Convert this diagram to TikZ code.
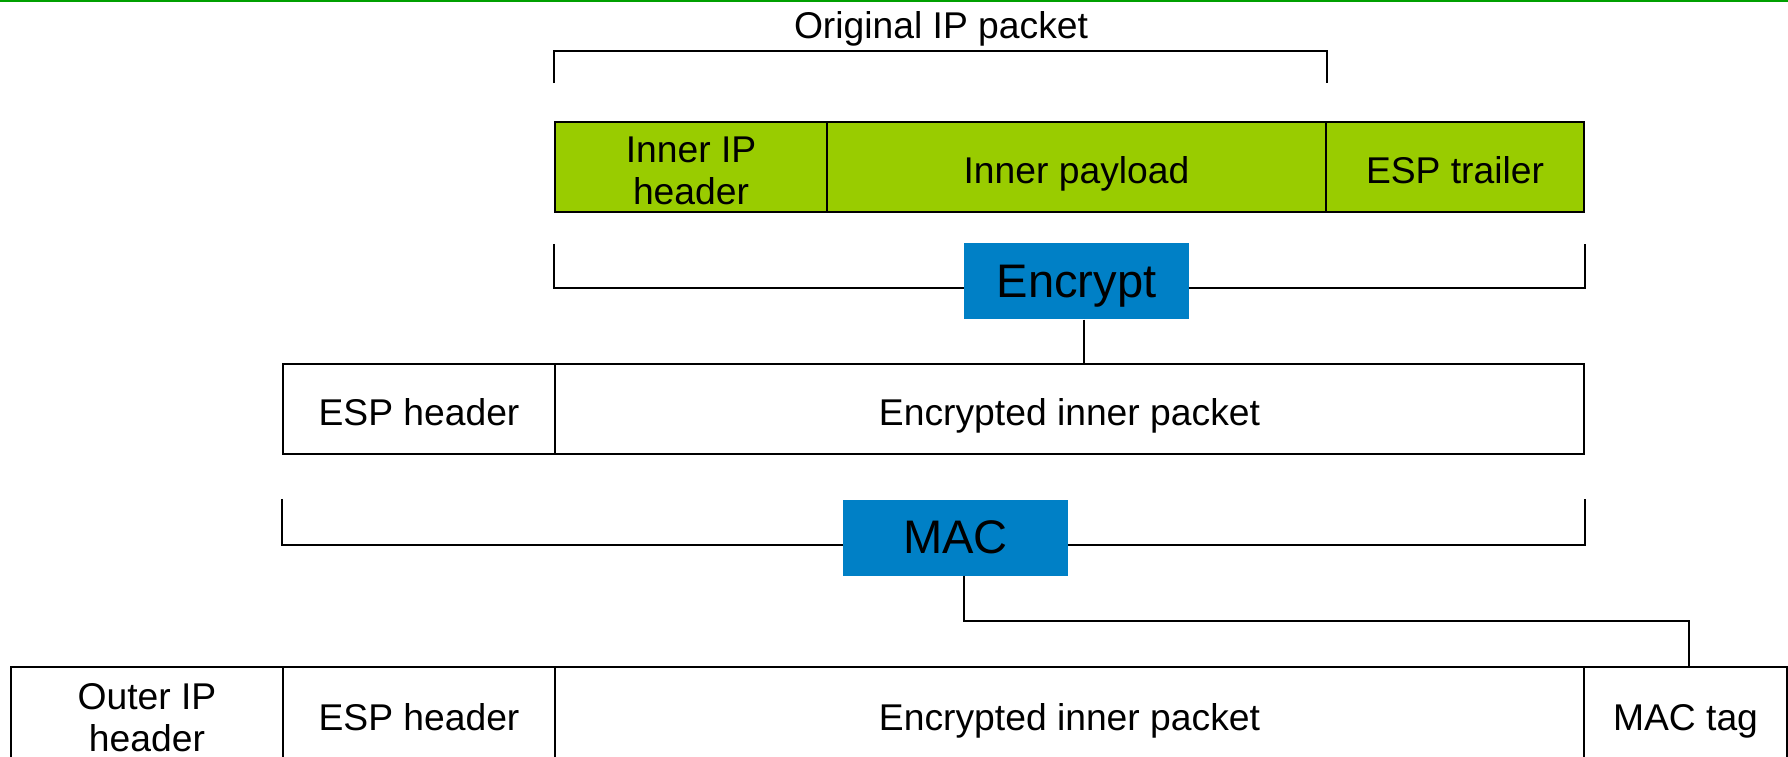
\documentclass[tikz,border=0pt]{standalone}
\usepackage{fontspec}
\setmainfont{Liberation Sans}
\definecolor{leafgreen}{RGB}{153,204,0}
\definecolor{stepblue}{RGB}{0,128,198}
\definecolor{rulegreen}{RGB}{0,160,0}

\tikzset{
  cell/.style={draw, line width=0.5pt, minimum height=0.9cm, inner sep=0pt,
    align=center, text height=0.36cm, text depth=0.036cm,
    font=\fontsize{10.6}{12}\selectfont},
  twoline/.style={text height=0.8cm, text depth=0.053cm},
  greencell/.style={cell, fill=leafgreen},
  opbox/.style={fill=stepblue, minimum width=2.25cm, minimum height=0.76cm,
    inner sep=0pt, text depth=0pt, font=\fontsize{13.4}{15}\selectfont},
  link/.style={line width=0.5pt},
}

\begin{document}
\begin{tikzpicture}
    \useasboundingbox (0,0) rectangle (17.88,7.56);
    \draw[rulegreen, line width=0.6pt] (0,7.55) -- (17.88,7.55);

    % Original packet with ESP trailer appended
    \node[greencell, twoline, minimum width=2.72cm] (inhdr) at (6.91,5.89) {Inner IP\\header};
    \node[greencell, minimum width=4.99cm] (payload) at (10.765,5.89) {Inner payload};
    \node[greencell, minimum width=2.58cm] (trailer) at (14.55,5.89) {ESP trailer};
    \node (origlabel) at (9.41,7.275) {\fontsize{10.6}{12}\selectfont Original IP packet};
    \draw[link] ([yshift=0.38cm]inhdr.north west) -- ++(0,0.32) -| ([yshift=0.38cm]payload.north east);

    % Encryption step
    \draw[link] ([yshift=-0.31cm]inhdr.south west) -- ++(0,-0.44) -| ([yshift=-0.31cm]trailer.south east);
    \node[opbox] (enc) at (10.765,4.75) {Encrypt};

    % ESP header plus ciphertext
    \node[cell, minimum width=2.72cm] (esphdr) at (4.19,3.47) {ESP header};
    \node[cell, minimum width=10.29cm] (encpkt) at (10.695,3.47) {Encrypted inner packet};
    \draw[link] ([xshift=0.075cm]enc.south) -- ([xshift=0.075cm]enc.south |- encpkt.north);

    % MAC step
    \draw[link] ([yshift=-0.44cm]esphdr.south west) -- ++(0,-0.46) -| ([yshift=-0.44cm]encpkt.south east);
    \node[opbox] (mac) at (9.555,2.185) {MAC};

    % Final tunnel-mode packet
    \node[cell, twoline, minimum width=2.72cm, minimum height=0.944cm] (outhdr) at (1.47,0.418) {Outer IP\\header};
    \node[cell, minimum width=2.72cm, minimum height=0.944cm] (esphdr2) at (4.19,0.418) {ESP header};
    \node[cell, minimum width=10.29cm, minimum height=0.944cm] (encpkt2) at (10.695,0.418) {Encrypted inner packet};
    \node[cell, minimum width=2.03cm, minimum height=0.944cm] (mactag) at (16.855,0.418) {MAC tag};
    \draw[link] ([xshift=0.085cm]mac.south) -- ++(0,-0.45) -| ([xshift=0.035cm]mactag.north);
\end{tikzpicture}
\end{document}
